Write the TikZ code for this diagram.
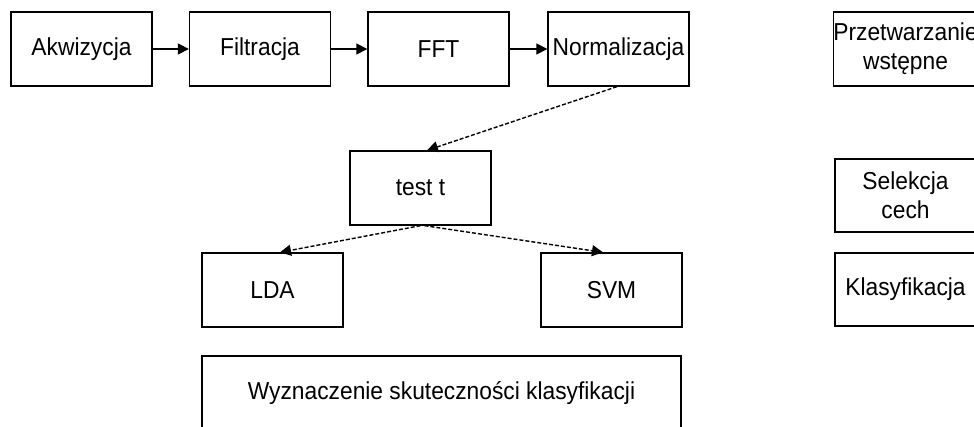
\documentclass[tikz,border=0pt]{standalone}
\usepackage{fontspec}
\setmainfont{Liberation Sans}[FakeStretch=0.93]
\usetikzlibrary{arrows.meta}
\begin{document}
\begin{tikzpicture}[x=1pt,y=1pt,
  box/.style={draw=black,line width=1.3pt,rectangle,minimum width=141pt,minimum height=74pt,inner sep=0pt,align=center,font=\fontsize{24.5}{29}\selectfont,text=black},
  solidarrow/.style={line width=1.3pt,-{Triangle[length=11pt,width=11pt]}},
  dasharrow/.style={line width=1.4pt,dash pattern=on 4pt off 2pt,-{Triangle[length=11pt,width=11pt]}}]
\clip (0,0) rectangle (974,-427);
\fill[white] (0,0) rectangle (974,-427);
\node[box] (akw) at (81.5,-49) {Akwizycja};
\node[box] (fil) at (260,-49) {Filtracja};
\node[box] (fft) at (438.5,-49) {FFT};
\node[box] (nor) at (618.5,-49) {Normalizacja};
\node[box] (prz) at (905.5,-49) {Przetwarzanie\\wstępne};
\node[box] (tt) at (420.5,-188) {test t};
\node[box] (lda) at (272.5,-290) {LDA};
\node[box] (svm) at (611.5,-290) {SVM};
\node[box,minimum width=479pt] (wyz) at (441.5,-393) {Wyznaczenie skuteczności klasyfikacji};
\node[box,minimum height=73pt] (sel) at (905.5,-195.5) {Selekcja\\cech};
\node[box,minimum height=73pt] (kla) at (905.5,-289.5) {Klasyfikacja};
\draw[solidarrow] (akw) -- (fil);
\draw[solidarrow] (fil) -- (fft);
\draw[solidarrow] (fft) -- (nor);
\draw[dasharrow] ([xshift=-1.5pt]nor.south) -- ([xshift=6.5pt]tt.north);
\draw[dasharrow] (tt.south) -- ([xshift=7.5pt]lda.north);
\draw[dasharrow] ([xshift=4pt]tt.south) -- ([xshift=-8.5pt]svm.north);
\end{tikzpicture}
\end{document}
